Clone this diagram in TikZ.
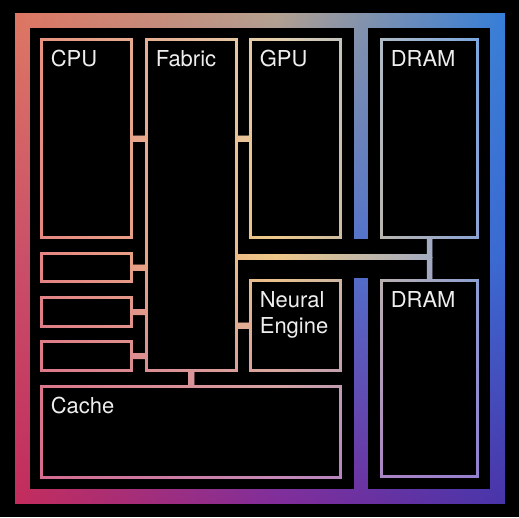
\documentclass[tikz,border=0pt]{standalone}
\usepackage{fontspec}
\setsansfont{TeX Gyre Heros}
\usetikzlibrary{fadings,shadings,fit,calc}

% outer rim of the die: corners, edge middles and centre
\definecolor{rimul}{RGB}{225,118,96}
\definecolor{rimum}{RGB}{185,163,140}
\definecolor{rimur}{RGB}{45,125,222}
\definecolor{rimml}{RGB}{212,76,96}
\definecolor{rimc}{RGB}{95,118,200}
\definecolor{rimmr}{RGB}{55,105,210}
\definecolor{rimll}{RGB}{198,42,88}
\definecolor{rimlm}{RGB}{132,40,150}
\definecolor{rimlr}{RGB}{70,50,168}
% blocks and wires
\definecolor{wireul}{RGB}{232,140,118}
\definecolor{wireum}{RGB}{228,210,180}
\definecolor{wireur}{RGB}{100,160,235}
\definecolor{wireml}{RGB}{228,122,130}
\definecolor{wirec}{RGB}{238,200,135}
\definecolor{wiremr}{RGB}{120,155,226}
\definecolor{wirell}{RGB}{212,100,138}
\definecolor{wirelm}{RGB}{190,125,190}
\definecolor{wirelr}{RGB}{140,120,210}
\definecolor{labelgrey}{RGB}{238,238,238}

\tikzset{
  chipgrid/.style={x=0.02cm,y=-0.02cm},
  topleft/.style={shift={(-259.5,-258.5)}},
  unit/.style={inner sep=0pt,outer sep=0pt,line width=0.06cm},
  link/.style={line width=0.13cm},
  bus/.style={line width=0.12cm},
  tag/.style={anchor=base west,inner sep=0pt,text=labelgrey,align=left,
    font=\sffamily\fontsize{12.5}{14.7}\selectfont}
}

% blocks of the die, in pixels from the top left corner
\newcommand{\chipunits}{
  \node[unit,fit={(41.5,39.5) (131.5,237.5)}] (cpu) {};
  \node[unit,fit={(146.5,39.5) (236.5,370.5)}] (fabric) {};
  \node[unit,fit={(250.5,39.5) (340.5,237.5)}] (gpu) {};
  \node[unit,fit={(381.5,39.5) (477.5,237.5)}] (dramtop) {};
  \node[unit,fit={(41.5,253.5) (131.5,281.5)}] (io1) {};
  \node[unit,fit={(41.5,297.5) (131.5,326.5)}] (io2) {};
  \node[unit,fit={(41.5,341.5) (131.5,370.5)}] (io3) {};
  \node[unit,fit={(250.5,280.5) (340.5,370.5)}] (npu) {};
  \node[unit,fit={(41.5,386.5) (340.5,477.5)}] (cache) {};
  \node[unit,fit={(381.5,280.5) (477.5,476.5)}] (drambot) {};
}

\begin{tikzfadingfrompicture}[name=rim,chipgrid]
  \useasboundingbox (-259.5,-258.5) rectangle (259.5,258.5);
  \begin{scope}[topleft,color=transparent!0]
    \node[unit,draw,line width=0.3cm,fit={(22.5,20.5) (497.5,496.5)}] (die) {};
    \draw[line width=0.28cm] (361,21) -- (361,239) (361,278) -- (361,496);
  \end{scope}
\end{tikzfadingfrompicture}

\begin{tikzfadingfrompicture}[name=wire,chipgrid]
  \useasboundingbox (-259.5,-258.5) rectangle (259.5,258.5);
  \begin{scope}[topleft,color=transparent!0,unit/.append style={draw}]
    \chipunits
    \draw[link] (cpu.east) -- (cpu.east -| fabric.west);
    \draw[link] (gpu.west) -- (gpu.west -| fabric.east);
    \foreach \u in {io1,io2,io3}
      \draw[link] (\u.east) -- (\u.east -| fabric.west);
    \draw[link] (npu.west) -- (npu.west -| fabric.east);
    \draw[link] (fabric.south) -- (fabric.south |- cache.north);
    \coordinate (tap) at ($(dramtop.south)!0.45!(drambot.north)$);
    \draw[bus] (dramtop.south) -- (drambot.north);
    \draw[bus] (tap -| fabric.east) -- (tap);
  \end{scope}
\end{tikzfadingfrompicture}

\begin{document}
\begin{tikzpicture}[chipgrid]
  \fill[black] (-259.5,-258.5) rectangle (259.5,258.5);
  % four patches round the glowing middle, seen through each mask
  \foreach \layer in {rim,wire}
    \foreach \xa/\ya/\xb/\yb/\pa/\pb/\pc/\pd in {
      -259.5/-258.5/15.5/-1.5/ul/um/ml/c, 15.5/-258.5/259.5/-1.5/um/ur/c/mr,
      -259.5/-1.5/15.5/258.5/ml/c/ll/lm, 15.5/-1.5/259.5/258.5/c/mr/lm/lr}
      \shade[path fading=\layer,fit fading=false,
        upper left=\layer\pa,upper right=\layer\pb,
        lower left=\layer\pc,lower right=\layer\pd] (\xa,\ya) rectangle (\xb,\yb);
  \begin{scope}[topleft]
    \chipunits
    \foreach \u/\t/\dy in {cpu/CPU/27,fabric/Fabric/27,gpu/GPU/27,dramtop/DRAM/27,
      npu/{Neural\\Engine}/53,cache/Cache/27,drambot/DRAM/27}
      \node[tag] (\u label) at ([shift={(9,\dy)}]\u.north west) {\t};
  \end{scope}
\end{tikzpicture}
\end{document}
